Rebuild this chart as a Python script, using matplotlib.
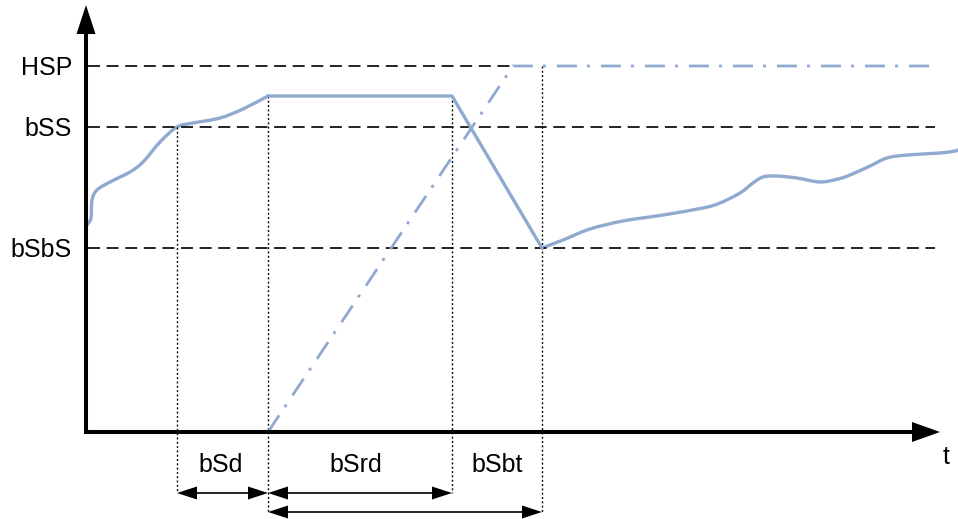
import matplotlib
matplotlib.use("Agg")
import matplotlib.pyplot as plt
from matplotlib.path import Path
from matplotlib.patches import PathPatch
import numpy as np

plt.rcParams["font.family"] = ["Liberation Sans", "DejaVu Sans"]
plt.rcParams["lines.scale_dashes"] = False

# Speed levels (vertical units)
level_names = ["HSP", "bSS", "bSbS"]
level_values = [366, 305, 184]
HSP, bSS, bSbS = level_values

# Time markers (horizontal units)
t_delay = 91      # speed crosses bSS
t_ramp = 182      # ramp start / plateau start
t_brake = 366     # end of plateau
t_bottom = 456    # speed reaches bSbS
t_end = 849
plateau = 336

# Measured speed curve: rising part, plateau + drop, recovery part
rise_t = [1, 5, 6, 11, 24, 44, 57, 74, 91, 107, 134, 157, 182]
rise_v = [207, 214, 232, 242, 250, 260, 270, 290, 305, 309, 314, 323, 336]
hold_t = [182, 366, 456]
hold_v = [336, 336, 184]
recover_t = [456, 477, 504, 537, 577, 617, 634, 654, 667, 677, 690, 711,
             734, 752, 764, 784, 801, 821, 854, 869, 872]
recover_v = [184, 192, 203, 211, 217, 224, 229, 239, 249, 255, 256, 254,
             250, 253, 257, 266, 274, 277, 279, 281, 282]

# Reference ramp (dash-dot): rises from 0 at t_ramp to HSP, then holds
ramp_t = [t_ramp, 427, t_end]
ramp_v = [0, HSP, HSP]

# Interval labels under the time axis
interval_labels = ["bSd", "bSrd", "bSbt"]
interval_x = [135, 270, 411]

BLUE = "#8FA9CF"
INK = "#000000"

fig = plt.figure(figsize=(9.58, 5.19), dpi=100)
ax = fig.add_axes([0, 0, 1, 1])
ax.set_xlim(-86, 872)
ax.set_ylim(-87, 432)
ax.axis("off")


def smooth_path(xs, ys):
    """Cubic Bezier path passing through every point (Catmull-Rom tangents)."""
    p = np.column_stack([xs, ys]).astype(float)
    verts = [p[0]]
    codes = [Path.MOVETO]
    n = len(p)
    for i in range(n - 1):
        p0 = p[i - 1] if i > 0 else p[i]
        p3 = p[i + 2] if i + 2 < n else p[i + 1]
        c1 = p[i] + (p[i + 1] - p0) / 6.0
        c2 = p[i + 1] - (p3 - p[i]) / 6.0
        verts += [c1, c2, p[i + 1]]
        codes += [Path.CURVE4] * 3
    return Path(verts, codes)


# Horizontal reference levels
dash = (0, (8.6, 4.8))
ax.plot([2, 427], [HSP, HSP], color="#111111", lw=1.3, linestyle=dash)
for lv in (bSS, bSbS):
    ax.plot([2, t_end], [lv, lv], color="#111111", lw=1.3, linestyle=dash)

# Vertical dotted markers
dot = (0, (1.4, 1.7))
dot_style = dict(color=INK, lw=1.0, linestyle=dot, solid_capstyle="butt")
ax.plot([t_delay, t_delay], [bSS, -61], **dot_style)
ax.plot([t_ramp, t_ramp], [plateau, -80], **dot_style)
ax.plot([t_brake, t_brake], [plateau, -61], **dot_style)
ax.plot([t_bottom, t_bottom], [HSP, -80], **dot_style)

# Ramp and speed curves
ax.plot(ramp_t, ramp_v, color=BLUE, lw=2.0,
        linestyle=(0, (14.4, 7.2, 2.2, 7.9)), solid_capstyle="butt")
curve_style = dict(facecolor="none", edgecolor=BLUE, lw=2.4,
                   joinstyle="round", capstyle="round")
ax.add_patch(PathPatch(smooth_path(rise_t, rise_v), **curve_style))
ax.plot(hold_t, hold_v, color=BLUE, lw=2.4, solid_joinstyle="miter",
        solid_capstyle="round")
ax.add_patch(PathPatch(smooth_path(recover_t, recover_v), **curve_style))

# Axes with arrow heads
ax.plot([0, 0], [-2, 398], color=INK, lw=2.9, solid_capstyle="butt")
ax.fill([-9.5, 9.5, 0], [398, 398, 427], color=INK, lw=0)
ax.plot([-2, 826], [0, 0], color=INK, lw=2.9, solid_capstyle="butt")
ax.fill([826, 826, 854], [-10, 10, 0], color=INK, lw=0)


def double_arrow(x0, x1, y, head=20, half=6.5):
    ax.plot([x0 + head - 1, x1 - head + 1], [y, y], color=INK, lw=1.2)
    ax.fill([x0, x0 + head, x0 + head], [y, y + half, y - half], color=INK, lw=0)
    ax.fill([x1, x1 - head, x1 - head], [y, y + half, y - half], color=INK, lw=0)


double_arrow(t_delay, t_ramp, -61)
double_arrow(t_ramp, t_brake, -61)
double_arrow(t_ramp, t_bottom, -80)

# Text
fs = 18
for name, lv in zip(level_names, level_values):
    ax.text(-14, lv - 9, name, ha="right", va="baseline", fontsize=fs)
for name, x in zip(interval_labels, interval_x):
    ax.text(x, -40, name, ha="center", va="baseline", fontsize=fs)
ax.text(860, -32, "t", ha="center", va="baseline", fontsize=fs)

fig.savefig("out.png", dpi=100)
